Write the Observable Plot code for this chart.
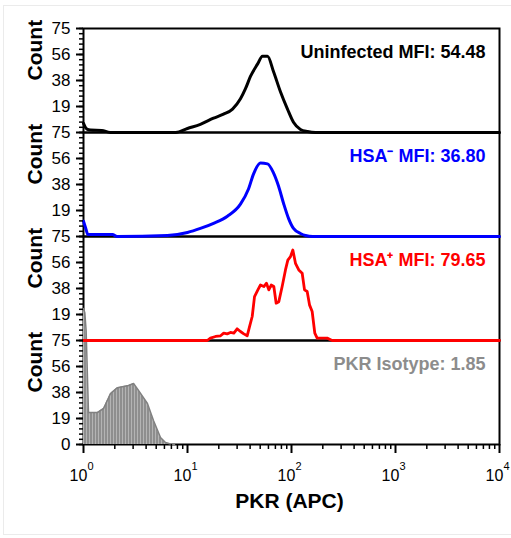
<!DOCTYPE html>
<html><head><meta charset="utf-8">
<script src="https://cdn.jsdelivr.net/npm/d3@7"></script>
<script src="https://cdn.jsdelivr.net/npm/@observablehq/plot@0.6"></script>
<style>
html,body{margin:0;padding:0;background:#fff;}
#frame{position:absolute;left:3px;top:5px;width:520px;height:530px;border:1px solid #ebebeb;box-sizing:border-box;}
#chart{position:absolute;left:0;top:0;}
</style></head><body>
<div id="frame"></div><div id="chart"></div>
<script>
// ---- data ----
const panels = ["Uninfected", "HSA-", "HSA+", "Isotype"];
const panelLabels = ["Uninfected MFI: 54.48", "HSA\u207B MFI: 36.80", "HSA\u207A MFI: 79.65", "PKR Isotype: 1.85"];
const panelColors = ["#000000", "#0000ff", "#ff0000", "#8c8c8c"];

const uninfX = [1, 1.08, 1.17, 1.5, 1.8, 7.7, 10, 13.3, 17.8, 22.2, 27.1, 32.3, 36.1, 40.3, 47.1, 52.6, 58.8, 67.1, 78.3, 91.5, 104.5, 122, 142.5, 170, 300, 10000];
const uninfY = [6.6, 2.4, 1.8, 1.5, 0, 0, 2.9, 5.9, 10.3, 13.2, 16.9, 24.3, 31.6, 40.4, 49.3, 55, 55, 44, 29.4, 16.9, 7.4, 2.2, 0.7, 0, 0, 0];

const hsaNegX = [1, 1.05, 1.1, 1.3, 1.9, 2.1, 6.4, 10, 13.3, 17.8, 24.2, 32.3, 38.6, 43.1, 50.3, 58.8, 67.1, 75, 83.8, 93.6, 104.5, 122, 136.5, 160, 10000];
const hsaNegY = [11, 6, 1.5, 1.5, 1.5, 0, 0.7, 2.9, 5.8, 9.5, 14.6, 23.3, 34.2, 45, 53, 52.4, 45.9, 36.4, 24, 13.1, 5.8, 2.2, 0.7, 0, 0];

const hsaPosX = [1, 15.5, 16.6, 18.6, 20.8, 22.3, 24.1, 25.9, 27.9, 30, 32.3, 34.8, 37.5, 39.5, 41.9, 44.1, 47.5, 50.3, 54.2, 57.5, 60.5, 63.8, 67.6, 71.2, 75.5, 81.3, 87.5, 92.2, 97.8, 103, 109.2, 117.5, 126.7, 133.4, 141.5, 149, 158, 167.5, 176.5, 220, 246, 10000];
const hsaPosY = [0, 0, 1.7, 2.9, 3.4, 5.3, 4.8, 5.8, 5.3, 8.4, 6.5, 4.8, 3.4, 10, 17.3, 31.7, 36.5, 40, 38.9, 41.3, 36.5, 40, 38.9, 26.9, 28, 38.9, 50.9, 58, 60.5, 65.3, 55.7, 50.9, 48.5, 36.5, 35.3, 25.7, 20.9, 5.3, 1.7, 1.7, 0, 0];

const isoX = [1, 1.03, 1.06, 1.1, 1.117, 1.36, 1.56, 1.82, 2.12, 2.71, 3.03, 3.38, 4.12, 4.71, 5.5, 6.14, 6.86, 7.5];
const isoY = [98, 95, 82, 40, 23, 23, 26, 36.8, 41, 42.5, 44, 39, 29.6, 17.3, 5, 1.4, 0.4, 0];

const yMajor = [18.75, 37.5, 56.25, 75];
const yMinor = d3.range(0, 75.001, 3.75);
const xDecades = [0, 1, 2, 3, 4];
const xMinor = [1, 10, 100, 1000].flatMap(p => [2,3,4,5,6,7,8,9].map(m => m * p));

// ---- build tables ----
const rows = (panel, xs, ys) => xs.map((x, i) => ({panel, x, count: ys[i]}));
const uninfRows = rows(panels[0], uninfX, uninfY);
const negRows = rows(panels[1], hsaNegX, hsaNegY);
const posRows = rows(panels[2], hsaPosX, hsaPosY);
const isoRows = rows(panels[3], isoX, isoY);
const labelRows = panels.map((p, i) => ({panel: p, label: panelLabels[i], color: panelColors[i]}));

const chart = Plot.plot({
  width: 511, height: 538,
  marginLeft: 83, marginRight: 12, marginTop: 28, marginBottom: 94,
  style: {fontFamily: "'Liberation Sans', Arial, sans-serif", color: "#000", background: "transparent"},
  x: {type: "log", domain: [1, 10000], axis: null, label: null},
  y: {domain: [0, 75], axis: null, label: null},
  fy: {domain: panels, padding: 0, axis: null, label: null},
  marks: [
    Plot.frame({stroke: "#000", strokeWidth: 2}),
    Plot.areaY(isoRows, {x: "x", y: "count", fy: "panel", fill: "url(#stripes)"}),
    Plot.line(isoRows, {x: "x", y: "count", fy: "panel", stroke: "#808080", strokeWidth: 1.5}),
    Plot.line(uninfRows, {x: "x", y: "count", fy: "panel", stroke: panelColors[0], strokeWidth: 3, curve: "monotone-x"}),
    Plot.line(negRows, {x: "x", y: "count", fy: "panel", stroke: panelColors[1], strokeWidth: 3, curve: "monotone-x"}),
    Plot.line(posRows, {x: "x", y: "count", fy: "panel", stroke: panelColors[2], strokeWidth: 2.8}),
    // y axes
    Plot.axisY(yMinor, {tickSize: 4, tickFormat: () => "", strokeWidth: 1.5, label: null}),
    Plot.axisY(yMajor, {tickSize: 7, tickPadding: 6, tickFormat: d => Math.round(d), fontSize: 17, strokeWidth: 2, label: null}),
    Plot.axisY([0], {tickSize: 7, tickPadding: 6, tickFormat: d => d, fontSize: 17, strokeWidth: 2, label: null, facetAnchor: "bottom"}),
    // x axis
    Plot.axisX(xMinor, {tickSize: 5, tickFormat: () => "", strokeWidth: 1.5, label: null}),
    Plot.axisX(xDecades.map(d => 10 ** d), {tickSize: 9, tickFormat: () => "", strokeWidth: 2, label: null}),
    Plot.text(xDecades, {x: d => 10 ** d, text: () => "10", frameAnchor: "bottom", dy: 36, dx: -5, fontSize: 16, facetAnchor: "bottom"}),
    Plot.text(xDecades, {x: d => 10 ** d, text: d => String(d), frameAnchor: "bottom", dy: 25, dx: 7, fontSize: 11, facetAnchor: "bottom"}),
    Plot.text(["PKR (APC)"], {text: d => d, frameAnchor: "bottom", dy: 63, dx: -2, fontSize: 21, fontWeight: "bold", facetAnchor: "bottom"}),
    // panel labels
    Plot.text(labelRows, {fy: "panel", text: "label", fill: "color", frameAnchor: "top-right", textAnchor: "end", dx: -14, dy: 17, fontSize: 18, fontWeight: "bold", letterSpacing: 0.3}),
    Plot.text(panels, {fy: d => d, text: () => "Count", frameAnchor: "left", rotate: -90, dx: -48, fontSize: 21, fontWeight: "bold"})
  ]
});

d3.select(chart).insert("defs", ":first-child").html(
  '<pattern id="stripes" patternUnits="userSpaceOnUse" width="3" height="10">' +
  '<rect width="3" height="10" fill="#b8b8b8"/><rect width="2.1" height="10" fill="#8e8e8e"/></pattern>');

document.getElementById("chart").appendChild(chart);
</script>
</body></html>
